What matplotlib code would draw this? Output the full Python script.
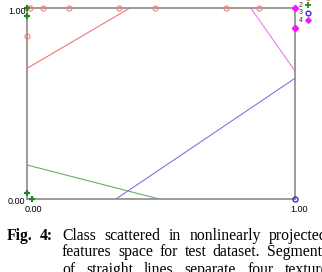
import matplotlib
matplotlib.use("Agg")
import matplotlib.pyplot as plt
from matplotlib.lines import Line2D

# ---- data ----
class1_x = [0.01, 0.061, 0.157, 0.344, 0.476, 0.741, 0.866, 0.0]
class1_y = [1.0, 1.0, 1.0, 1.0, 1.0, 1.0, 1.0, 0.855]
class2_x = [0.0, 0.0, 0.0, 0.02]
class2_y = [1.0, 0.96, 0.033, 0.0]
class3_x = [1.0]
class3_y = [0.0]
class4_x = [1.0, 1.0]
class4_y = [1.0, 0.894]

seg_red_x = [0.0, 0.384]
seg_red_y = [0.684, 1.0]
seg_mag_x = [0.835, 1.0]
seg_mag_y = [1.0, 0.670]
seg_blue_x = [0.332, 1.0]
seg_blue_y = [0.0, 0.632]
seg_green_x = [0.0, 0.493]
seg_green_y = [0.178, 0.0]

legend_labels = ["1", "2", "3", "4"]
tick_labels = ["0.00", "1.00"]
caption_label = ["Fig.", "4:"]
caption_lines = [
    ["Class", "scattered", "in", "nonlinearly", "projected"],
    ["features", "space", "for", "test", "dataset.", "Segments"],
    ["of", "straight", "lines", "separate", "four", "texture"],
]
caption_baselines = [239.5, 256.5, 273.5]

W, H = 322, 272
fig = plt.figure(figsize=(W / 100, H / 100), dpi=100)
fig.patch.set_facecolor("white")

def px(x, y):
    return x / W, 1 - y / H

L, R, T, B = 27, 295, 8, 199
ax = fig.add_axes([L / W, 1 - B / H, (R - L) / W, (B - T) / H])
ax.set_xlim(0, 1)
ax.set_ylim(0, 1)
ax.set_xticks([])
ax.set_yticks([])
for s in ax.spines.values():
    s.set_color("#8a8a8a")
    s.set_linewidth(1.2)

lw = 0.75
ax.plot(seg_red_x, seg_red_y, color="#f07070", lw=lw)
ax.plot(seg_mag_x, seg_mag_y, color="#e878e8", lw=lw)
ax.plot(seg_blue_x, seg_blue_y, color="#7070e8", lw=lw)
ax.plot(seg_green_x, seg_green_y, color="#60aa60", lw=lw)

ax.plot(class1_x, class1_y, ls="none", marker="o", ms=3.6, mfc="none",
        mec="#f08080", mew=0.8, clip_on=False, zorder=5)
ax.plot(class2_x, class2_y, ls="none", marker="+", ms=5, color="#1a8a1a",
        mew=1.6, clip_on=False, zorder=6)
ax.plot(class3_x, class3_y, ls="none", marker="o", ms=3.6, mfc="none",
        mec="#3030d0", mew=1.0, clip_on=False, zorder=6)
ax.plot(class4_x, class4_y, ls="none", marker="D", ms=3.2, color="#ff10ff",
        clip_on=False, zorder=6)

# tick labels
tf = dict(family="Liberation Sans", fontsize=6.5, color="black")
fig.text(*px(26, 11), tick_labels[1], ha="right", va="center", **tf)
fig.text(*px(25, 201.5), tick_labels[0], ha="right", va="center", **tf)
fig.text(*px(33, 209.5), tick_labels[0], ha="center", va="center", **tf)
fig.text(*px(299, 209.5), tick_labels[1], ha="center", va="center", **tf)

# legend
leg_styles = [
    dict(marker="o", ms=3, mfc="none", mec="#f08080", color="#f08080"),
    dict(marker="+", ms=4, color="#1a8a1a", mew=1.3),
    dict(marker="o", ms=3.4, mfc="none", mec="#3030d0", mew=1.0, color="#3030d0"),
    dict(marker="D", ms=2.8, color="#ff10ff"),
]
leg_y = [-2, 5.3, 12.5, 20]
for lab, st, yy in zip(legend_labels, leg_styles, leg_y):
    fig.text(*px(300.5, yy), lab, ha="center", va="center",
             family="Liberation Sans", fontsize=5, color="#333333")
    fx, fy = px(308, yy)
    fig.add_artist(Line2D([fx], [fy], ls="none", transform=fig.transFigure, **st))

# caption (justified, column runs past the right edge of the crop)
fs = 11.3
cf = dict(family="Liberation Serif", fontsize=fs, color="black", va="baseline")
fig.text(*px(7, caption_baselines[0]), caption_label[0], ha="left", weight="bold", **cf)
fig.text(*px(40, caption_baselines[0]), caption_label[1], ha="left", weight="bold", **cf)

renderer = fig.canvas.get_renderer()
x_start, x_end = 62.0, 328.0
for words, yb in zip(caption_lines, caption_baselines):
    arts = [fig.text(0, 0, w, ha="left", **cf) for w in words]
    widths = [a.get_window_extent(renderer).width for a in arts]
    gap = (x_end - x_start - sum(widths)) / (len(words) - 1)
    x = x_start
    for a, wdt in zip(arts, widths):
        a.set_position(px(x, yb))
        x += wdt + gap

fig.savefig("out.png", dpi=100, facecolor="white")
